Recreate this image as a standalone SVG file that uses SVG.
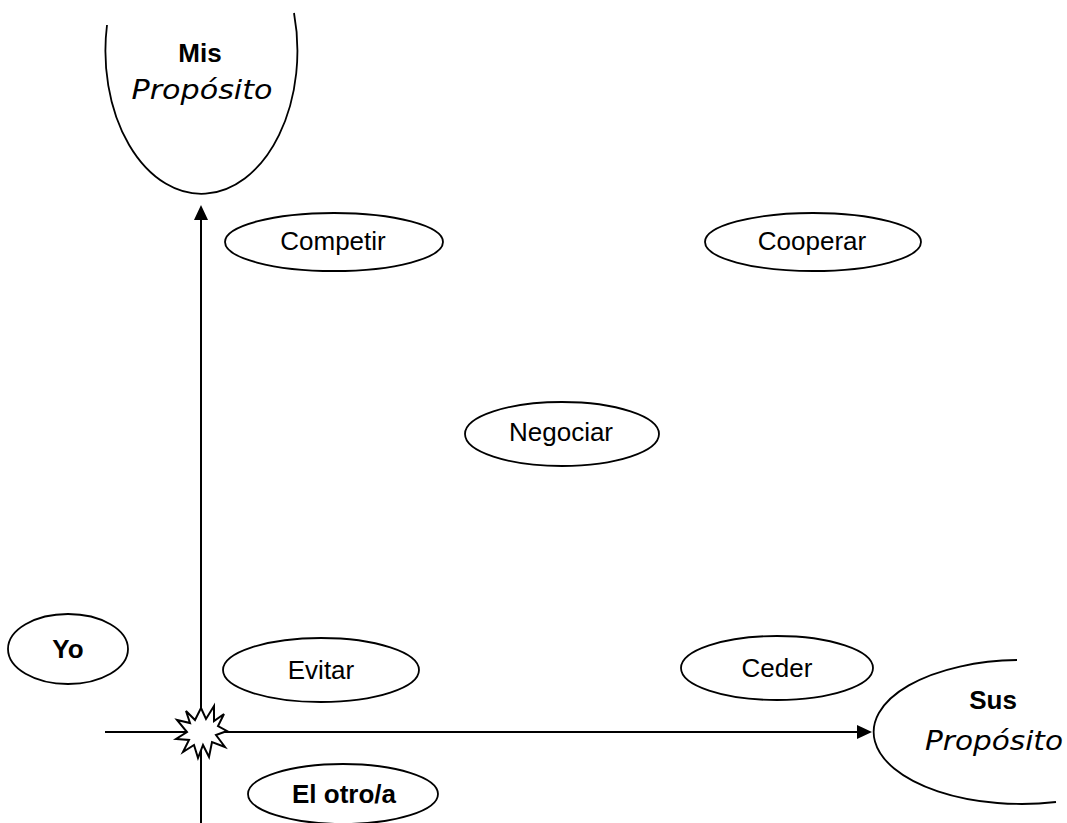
<svg xmlns="http://www.w3.org/2000/svg" width="1067" height="823" viewBox="0 0 1067 823">
<style>
.sh{fill:none;stroke:#000;stroke-width:1.8}
.nd{fill:#fff;stroke:#000;stroke-width:1.8}
.t{font-family:"Liberation Sans",Arial,sans-serif;font-size:26px;fill:#000;text-anchor:middle}
.b{font-weight:bold}
.c{font-family:"DejaVu Sans","Comic Sans MS",sans-serif;font-style:italic;font-size:27px;fill:#000;text-anchor:middle}
.ax{stroke:#000;stroke-width:2;fill:none}
</style>
<rect width="1067" height="823" fill="#fff"/>
<g id="connectors">
<line class="ax" x1="201" y1="823" x2="201" y2="218"/>
<polygon points="201,205 194,220 208,220" fill="#000"/>
<line class="ax" x1="105" y1="732" x2="859" y2="732"/>
<polygon points="872,732 857,725 857,739" fill="#000"/>
</g>
<g id="mis">
<path class="sh" d="M107,25 A96,143 0 1 0 294,13"/>
<text class="t b" x="200" y="62">Mis</text>
<text class="c" x="202" y="99" textLength="141" lengthAdjust="spacingAndGlyphs">Propósito</text>
</g>
<g id="sus">
<path class="sh" d="M1017,660 A148,72 0 1 0 1056,802"/>
<text class="t b" x="993" y="709">Sus</text>
<text class="c" x="994" y="750" textLength="138" lengthAdjust="spacingAndGlyphs">Propósito</text>
</g>
<g id="competir">
<ellipse class="nd" cx="334" cy="242" rx="109" ry="29"/>
<text class="t" x="333" y="250">Competir</text>
</g>
<g id="cooperar">
<ellipse class="nd" cx="813" cy="242" rx="108" ry="29"/>
<text class="t" x="812" y="250">Cooperar</text>
</g>
<g id="negociar">
<ellipse class="nd" cx="562" cy="434" rx="97" ry="32"/>
<text class="t" x="561" y="441">Negociar</text>
</g>
<g id="yo">
<ellipse class="nd" cx="68" cy="649" rx="60" ry="35"/>
<text class="t b" x="68" y="658">Yo</text>
</g>
<g id="evitar">
<ellipse class="nd" cx="321" cy="670" rx="98" ry="32"/>
<text class="t" x="321" y="679">Evitar</text>
</g>
<g id="ceder">
<ellipse class="nd" cx="777" cy="668" rx="96" ry="32"/>
<text class="t" x="777" y="677">Ceder</text>
</g>
<g id="elotro">
<ellipse class="nd" cx="343" cy="794" rx="95" ry="30"/>
<text class="t b" x="344" y="803">El otro/a</text>
</g>
<g id="star">
<polygon points="201,708 206,719 214,706 214,721 224,714 218,726 227,731 216,735 225,747 212,742 209,757 203,745 198,758 194,745 183,752 189,740 176,739 187,732 177,720 190,723 186,711 195,720" fill="#fff" stroke="#000" stroke-width="2" stroke-linejoin="miter"/>
</g>
</svg>
